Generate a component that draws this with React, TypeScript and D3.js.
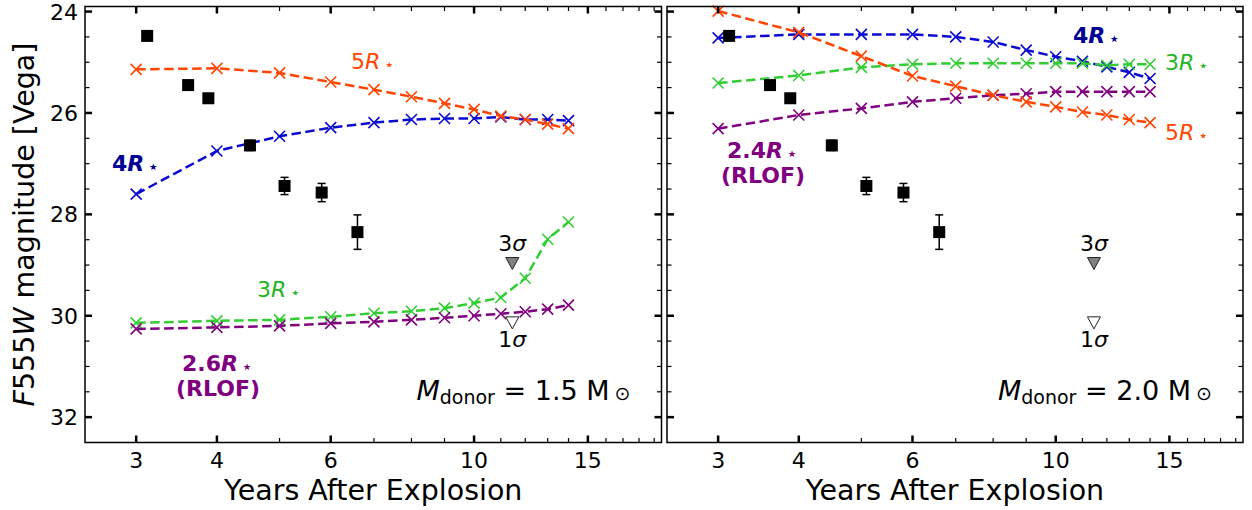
import React from 'react';
import * as d3 from 'd3';

// ---------- data ----------
const modelYears = [3, 4, 5, 6, 7, 8, 9, 10, 11, 12, 13, 14];

// M_donor = 1.5 Msun
const m15_5R = [25.14, 25.12, 25.21, 25.39, 25.54, 25.68, 25.81, 25.93, 26.06, 26.13, 26.22, 26.31];
const m15_4R = [27.6, 26.75, 26.46, 26.29, 26.19, 26.13, 26.11, 26.11, 26.08, 26.13, 26.13, 26.15];
const m15_3R = [30.14, 30.1, 30.08, 30.02, 29.95, 29.91, 29.85, 29.75, 29.64, 29.26, 28.49, 28.15];
const m15_26R = [30.26, 30.23, 30.2, 30.15, 30.12, 30.08, 30.04, 30.0, 29.96, 29.92, 29.87, 29.79];

// M_donor = 2.0 Msun
const m20_5R = [23.99, 24.41, 24.88, 25.27, 25.47, 25.65, 25.78, 25.88, 25.98, 26.04, 26.13, 26.19];
const m20_4R = [24.52, 24.45, 24.45, 24.45, 24.5, 24.6, 24.76, 24.89, 24.98, 25.09, 25.2, 25.32];
const m20_3R = [25.41, 25.26, 25.1, 25.04, 25.02, 25.02, 25.02, 25.02, 25.02, 25.06, 25.04, 25.04];
const m20_24R = [26.31, 26.04, 25.91, 25.78, 25.71, 25.65, 25.62, 25.58, 25.58, 25.58, 25.58, 25.58];

// observations
const obsYears = [3.12, 3.61, 3.88, 4.5, 5.09, 5.81, 6.6];
const obsMag = [24.48, 25.45, 25.71, 26.64, 27.44, 27.57, 28.35];
const obsErr = [0.04, 0.04, 0.05, 0.1, 0.17, 0.18, 0.34];

// upper limits
const limYear = 11.46;
const lim3sigma = 28.96;
const lim1sigma = 30.13;

// ticks
const xMajorTicks = [3, 4, 6, 10, 15];
const xMinorTicks = [5, 7, 8, 9, 11, 12, 13, 14, 16, 17, 18, 19];
const yMajorTicks = [24, 26, 28, 30, 32];
const yMinorTicks = [24.5, 25, 25.5, 26.5, 27, 27.5, 28.5, 29, 29.5, 30.5, 31, 31.5];

// ---------- style ----------
const FONT = 'DejaVu Sans';
const C_ORANGE = '#ff4500';
const C_BLUE = '#0a0ad2';
const C_GREEN = '#32cd32';
const C_PURPLE = '#800080';
const L_BLUE = '#000096';
const L_GREEN = '#22b522';

const W = 1252;
const H = 510;
const TOP = 6.5;
const BOTTOM = 442.5;

type Series = { values: number[]; color: string };

type Lbl = {
  x: number;
  y: number;
  pre: string;
  color: string;
  weight?: number | string;
  second?: string;
  anchor?: 'start' | 'middle' | 'end';
};

type PanelDef = {
  x0: number;
  x1: number;
  series: Series[];
  labels: Lbl[];
  mass: string;
  yLabels: boolean;
};

const yScale = d3.scaleLinear().domain([23.9, 32.5]).range([TOP, BOTTOM]);

function RLabel({ l }: { l: Lbl }) {
  return (
    <g>
      <text
        x={l.x}
        y={l.y}
        fill={l.color}
        fontFamily={FONT}
        fontSize={22}
        textAnchor={l.anchor || 'start'}
        fontWeight={l.weight || 'normal'}
      >
        {l.pre}
        <tspan fontStyle="italic">R</tspan>
        <tspan fontSize={16} dx={4} dy={1}>
          ⋆
        </tspan>
      </text>
      {l.second && (
        <text
          x={l.x + 36}
          y={l.y + 25}
          fill={l.color}
          fontFamily={FONT}
          fontSize={22}
          textAnchor="middle"
          fontWeight={l.weight || 'normal'}
        >
          {l.second}
        </text>
      )}
    </g>
  );
}

function Panel({ p }: { p: PanelDef }) {
  const x = d3.scaleLog().domain([2.5, 19.5]).range([p.x0, p.x1]);
  const y = yScale;
  const line = d3
    .line<number>()
    .x((_, i) => x(modelYears[i]))
    .y((d) => y(d));
  const s = 5.5;
  const tri = (cx: number, cy: number) =>
    `M${cx - 6.5},${cy - 5.5} L${cx + 6.5},${cy - 5.5} L${cx},${cy + 6.5} Z`;
  const cxLim = x(limYear);
  return (
    <g>
      {/* model curves */}
      {p.series.map((se, si) => (
        <g key={si}>
          <path
            d={line(se.values) || ''}
            fill="none"
            stroke={se.color}
            strokeWidth={2.5}
            strokeDasharray="9.5,4.5"
          />
          {se.values.map((v, i) => (
            <path
              key={i}
              d={`M${x(modelYears[i]) - s},${y(v) - s}L${x(modelYears[i]) + s},${y(v) + s}M${
                x(modelYears[i]) - s
              },${y(v) + s}L${x(modelYears[i]) + s},${y(v) - s}`}
              stroke={se.color}
              strokeWidth={1.6}
              fill="none"
            />
          ))}
        </g>
      ))}
      {/* observations */}
      {obsYears.map((t, i) => {
        const cx = x(t);
        const cy = y(obsMag[i]);
        const y0 = y(obsMag[i] - obsErr[i]);
        const y1 = y(obsMag[i] + obsErr[i]);
        return (
          <g key={i}>
            <line x1={cx} x2={cx} y1={y0} y2={y1} stroke="#000" strokeWidth={1.5} />
            <line x1={cx - 4} x2={cx + 4} y1={y0} y2={y0} stroke="#000" strokeWidth={1.5} />
            <line x1={cx - 4} x2={cx + 4} y1={y1} y2={y1} stroke="#000" strokeWidth={1.5} />
            <rect x={cx - 6} y={cy - 6} width={12} height={12} fill="#000" />
          </g>
        );
      })}
      {/* upper limits */}
      <path d={tri(cxLim, y(lim3sigma))} fill="#808080" stroke="#222" strokeWidth={1} />
      <path d={tri(cxLim, y(lim1sigma))} fill="#fff" stroke="#222" strokeWidth={1} />
      <text x={cxLim} y={y(lim3sigma) - 12} fontFamily={FONT} fontSize={22} textAnchor="middle" fill="#000">
        3<tspan fontStyle="italic">σ</tspan>
      </text>
      <text x={cxLim} y={y(lim1sigma) + 25} fontFamily={FONT} fontSize={22} textAnchor="middle" fill="#000">
        1<tspan fontStyle="italic">σ</tspan>
      </text>
      {/* labels */}
      {p.labels.map((l, i) => (
        <RLabel key={i} l={l} />
      ))}
      <text x={p.x1 - 31} y={400} fontFamily={FONT} fontSize={27} textAnchor="end" fill="#000">
        <tspan fontStyle="italic">M</tspan>
        <tspan fontSize={19} dy={4}>donor</tspan>
        <tspan dy={-4}> = {p.mass} M</tspan>
        <tspan fontSize={19} dx={5}>⊙</tspan>
      </text>

      {/* frame */}
      <rect x={p.x0} y={TOP} width={p.x1 - p.x0} height={BOTTOM - TOP} fill="none" stroke="#000" strokeWidth={1.5} />
      {/* x ticks */}
      {xMajorTicks.map((t) => (
        <g key={'xM' + t}>
          <line x1={x(t)} x2={x(t)} y1={BOTTOM} y2={BOTTOM - 7} stroke="#000" strokeWidth={2.5} />
          <line x1={x(t)} x2={x(t)} y1={TOP} y2={TOP + 7} stroke="#000" strokeWidth={2.5} />
          <text x={x(t)} y={468} fontFamily={FONT} fontSize={22} textAnchor="middle" fill="#000">
            {t}
          </text>
        </g>
      ))}
      {xMinorTicks.map((t) => (
        <g key={'xm' + t}>
          <line x1={x(t)} x2={x(t)} y1={BOTTOM} y2={BOTTOM - 4.5} stroke="#000" strokeWidth={1.2} />
          <line x1={x(t)} x2={x(t)} y1={TOP} y2={TOP + 4.5} stroke="#000" strokeWidth={1.2} />
        </g>
      ))}
      {/* y ticks */}
      {yMajorTicks.map((t) => (
        <g key={'yM' + t}>
          <line x1={p.x0} x2={p.x0 + 7} y1={y(t)} y2={y(t)} stroke="#000" strokeWidth={2.5} />
          <line x1={p.x1} x2={p.x1 - 7} y1={y(t)} y2={y(t)} stroke="#000" strokeWidth={2.5} />
          {p.yLabels && (
            <text x={p.x0 - 7} y={y(t)} dy="0.36em" fontFamily={FONT} fontSize={22} textAnchor="end" fill="#000">
              {t}
            </text>
          )}
        </g>
      ))}
      {yMinorTicks.map((t) => (
        <g key={'ym' + t}>
          <line x1={p.x0} x2={p.x0 + 4.5} y1={y(t)} y2={y(t)} stroke="#000" strokeWidth={1.2} />
          <line x1={p.x1} x2={p.x1 - 4.5} y1={y(t)} y2={y(t)} stroke="#000" strokeWidth={1.2} />
        </g>
      ))}
      <text
        x={(p.x0 + p.x1) / 2}
        y={500}
        fontFamily={FONT}
        fontSize={28.5}
        textAnchor="middle"
        fill="#000"
      >
        Years After Explosion
      </text>
    </g>
  );
}

const panels: PanelDef[] = [
  {
    x0: 85,
    x1: 661.5,
    yLabels: true,
    mass: '1.5',
    series: [
      { values: m15_4R, color: C_BLUE },
      { values: m15_3R, color: C_GREEN },
      { values: m15_26R, color: C_PURPLE },
      { values: m15_5R, color: C_ORANGE },
    ],
    labels: [
      { x: 351, y: 69, pre: '5', color: C_ORANGE },
      { x: 112, y: 171, pre: '4', color: L_BLUE, weight: 600 },
      { x: 257, y: 297, pre: '3', color: L_GREEN },
      { x: 182, y: 371, pre: '2.6', color: C_PURPLE, weight: 600, second: '(RLOF)' },
    ],
  },
  {
    x0: 667,
    x1: 1243,
    yLabels: false,
    mass: '2.0',
    series: [
      { values: m20_4R, color: C_BLUE },
      { values: m20_3R, color: C_GREEN },
      { values: m20_24R, color: C_PURPLE },
      { values: m20_5R, color: C_ORANGE },
    ],
    labels: [
      { x: 1073, y: 43, pre: '4', color: L_BLUE, weight: 600 },
      { x: 1165, y: 70, pre: '3', color: L_GREEN },
      { x: 1165, y: 140, pre: '5', color: C_ORANGE },
      { x: 727, y: 158, pre: '2.4', color: C_PURPLE, weight: 600, second: '(RLOF)' },
    ],
  },
];

export default function App() {
  return (
    <svg
      width={W}
      height={H}
      viewBox={`0 0 ${W} ${H}`}
      style={{ position: 'absolute', left: 0, top: 0, background: '#fff' }}
    >
      <rect x={0} y={0} width={W} height={H} fill="#fff" />
      {panels.map((p, i) => (
        <Panel key={i} p={p} />
      ))}
      <text
        transform={`translate(34,${(TOP + BOTTOM) / 2}) rotate(-90)`}
        fontFamily={FONT}
        fontSize={28.5}
        textAnchor="middle"
        fill="#000"
      >
        <tspan fontStyle="italic">F</tspan>555<tspan fontStyle="italic">W</tspan> magnitude [Vega]
      </text>
    </svg>
  );
}
